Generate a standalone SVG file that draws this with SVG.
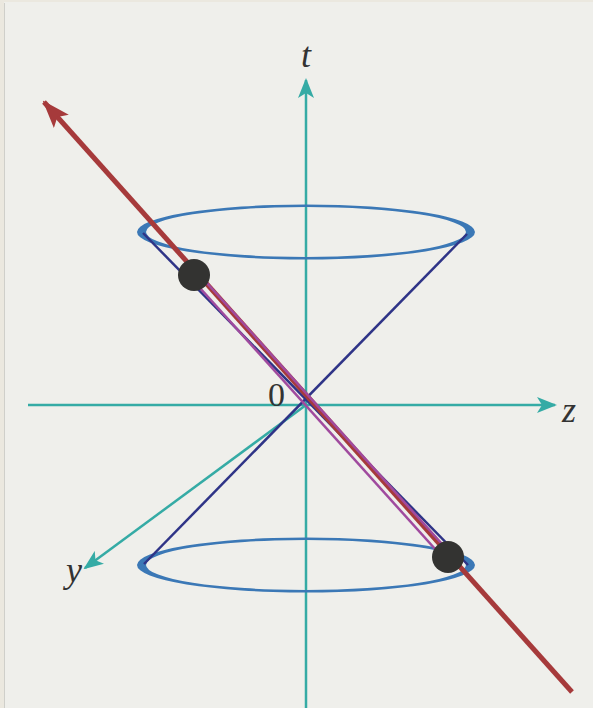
<svg xmlns="http://www.w3.org/2000/svg" width="593" height="708" viewBox="0 0 593 708">
<style>
.axis{stroke:#35aba5;stroke-width:2.5;fill:none}
.cone{stroke:#2f3487;stroke-width:2.5;fill:none}
.ring{fill:#3b78b6;fill-rule:evenodd}
.purple{stroke:#a04a9e;stroke-width:2.5;fill:none}
.lbl{font-family:"Liberation Serif",serif;font-style:italic;font-size:36px;fill:#333}
</style>
<defs>
<marker id="ta" markerWidth="20" markerHeight="16" refX="18" refY="8" orient="auto" markerUnits="userSpaceOnUse">
<path d="M0,0 L20,8 L0,16 L5,8 Z" fill="#35aba5"/>
</marker>
<marker id="ra" markerWidth="28" markerHeight="20" refX="26" refY="10" orient="auto" markerUnits="userSpaceOnUse">
<path d="M0,0 L28,10 L0,20 L6,10 Z" fill="#a63a3b"/>
</marker>
</defs>
<rect width="593" height="708" fill="#efefeb"/>
<rect width="4" height="708" fill="#ebe8df"/>
<rect width="593" height="2" fill="#ebe8df"/>
<line x1="4.5" y1="3" x2="4.5" y2="708" stroke="#cfcfca" stroke-width="1"/>
<g id="axes">
<line class="axis" x1="306" y1="708" x2="306" y2="80" marker-end="url(#ta)"/>
<line class="axis" x1="28" y1="405" x2="555" y2="405" marker-end="url(#ta)"/>
<line class="axis" x1="306" y1="405" x2="85" y2="568" marker-end="url(#ta)"/>
</g>
<g id="top-ring"><path class="ring" d="M137,232 a169,27.5 0 1,0 338,0 a169,27.5 0 1,0 -338,0 Z M146,232 a160,25 0 1,0 320,0 a160,25 0 1,0 -320,0 Z"/></g>
<g id="bottom-ring"><path class="ring" d="M137,565 a169,27.5 0 1,0 338,0 a169,27.5 0 1,0 -338,0 Z M146,565 a160,25 0 1,0 320,0 a160,25 0 1,0 -320,0 Z"/></g>
<g id="cone">
<line class="cone" x1="143" y1="233" x2="468" y2="565"/>
<line class="cone" x1="467" y1="234" x2="144" y2="564"/>
</g>
<g id="worldline">
<line x1="572" y1="692" x2="44" y2="102" stroke="#a63a3b" stroke-width="5" marker-end="url(#ra)"/>
</g>
<g id="purple-lines">
<line class="purple" x1="197" y1="272" x2="451" y2="554"/>
<line class="purple" x1="191" y1="278" x2="445" y2="560"/>
</g>
<g id="dot-top"><circle cx="194" cy="275" r="16" fill="#333331"/></g>
<g id="dot-bottom"><circle cx="448" cy="557" r="16" fill="#333331"/></g>
<g id="labels">
<text class="lbl" x="301" y="67">t</text>
<text class="lbl" x="562" y="422">z</text>
<text class="lbl" x="66" y="582">y</text>
<text x="268" y="406" font-family="Liberation Serif,serif" font-size="34" fill="#333">0</text>
</g>
</svg>
